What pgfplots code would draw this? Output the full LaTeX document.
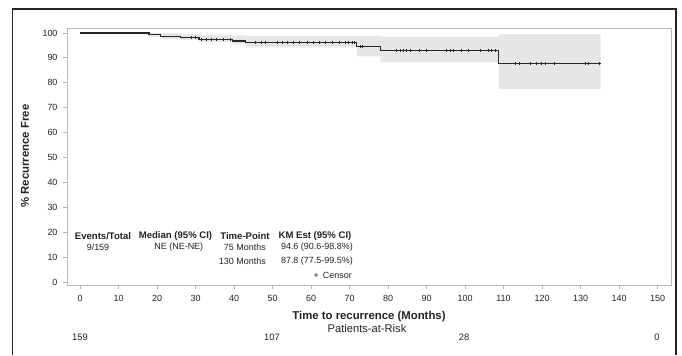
\documentclass[border=0pt]{standalone}
\usepackage{fontspec}
\setmainfont{Liberation Sans}
\usepackage{pgfplots}
\pgfplotsset{compat=1.18}
\usepgfplotslibrary{fillbetween}
\definecolor{bandgray}{HTML}{E6E6E6}
\definecolor{axgray}{HTML}{B8B8B8}
\definecolor{txt}{HTML}{222222}
\begin{document}
\begin{tikzpicture}
\begin{axis}[
  at={(67bp,-285bp)}, anchor=south west,
  scale only axis, width=604bp, height=257bp,
  xmin=-3.4, xmax=153.5, ymin=-1.2, ymax=102,
  xtick={0,10,...,150}, ytick={0,10,...,100},
  xtick pos=bottom, ytick pos=left,
  tick align=outside, major tick length=4bp,
  tick style={axgray, line width=0.8bp},
  axis line style={axgray, line width=0.9bp},
  /pgf/number format/assume math mode=true,
  ticklabel style={font=\fontsize{9}{10}\selectfont, text=txt},
  xticklabel style={yshift=-3bp},
  yticklabel style={xshift=-2bp},
]
% confidence band
\addplot[name path=U, const plot, draw=none, forget plot] coordinates {
(0,100) (17.9,100) (21,99.9) (26.2,99.4) (30.9,99.2) (39.7,99.0) (43,98.8) (71.9,98.8) (78.1,98.5) (108.8,99.5) (135.2,99.5)};
\addplot[name path=L, const plot, draw=none, forget plot] coordinates {
(0,100) (17.9,98.3) (21,97.6) (26.2,97.2) (30.9,96.3) (39.7,95.5) (43,94.2) (71.9,90.6) (78.1,88.2) (108.8,77.5) (135.2,77.5)};
\addplot[bandgray, forget plot] fill between[of=U and L];
% KM curve
\addplot[const plot, black!85, line width=1.1bp] coordinates {
(0,100) (17.9,99.4) (21,98.7) (26.2,98.1) (30.9,97.5) (39.7,96.8) (43,96.1) (71.9,94.6) (78.1,93.0) (108.8,87.8) (135.2,87.8)};
% censor marks
\addplot[only marks, mark=+, mark size=1.3bp, black!85, mark options={line width=0.6bp}] coordinates {
(29.0,98.1) (29.9,98.1)
(31.6,97.5) (32.9,97.5) (34.2,97.5) (35.5,97.5) (37.1,97.5) (39.1,97.5)
(40.7,96.8) (41.6,96.8)
(45.5,96.1) (47,96.1) (48,96.1) (51.1,96.1) (52.4,96.1) (53.8,96.1) (55.4,96.1) (56.9,96.1) (58.9,96.1) (60.6,96.1) (62.1,96.1) (63.6,96.1) (65.4,96.1) (67.3,96.1) (68.8,96.1) (69.7,96.1) (70.6,96.1) (71.2,96.1)
(72.7,94.6) (73.4,94.6)
(82.2,93.0) (83.1,93.0) (84.0,93.0) (84.8,93.0) (85.9,93.0) (88.1,93.0) (89.9,93.0) (95.2,93.0) (96.1,93.0) (97.0,93.0) (98.9,93.0) (100.9,93.0) (103.9,93.0) (106.1,93.0) (106.9,93.0) (107.8,93.0)
(113,87.8) (114,87.8) (116.9,87.8) (118.6,87.8) (119.7,87.8) (120.8,87.8) (123.1,87.8) (131.2,87.8) (132.1,87.8) (135,87.8)};
\end{axis}
\draw[line width=1.6bp, black!85] (12.5bp,-355bp) -- (12.5bp,-9bp) -- (676bp,-9bp) -- (676bp,-355bp);
% axis labels
\node[font=\fontsize{11.4}{12}\selectfont\bfseries, text=txt] at (369bp,-317bp) {Time to recurrence (Months)};
\node[font=\fontsize{11.4}{12}\selectfont\bfseries, text=txt, rotate=90] at (25bp,-156bp) {\% Recurrence Free};
\node[font=\fontsize{11.2}{12}\selectfont, text=txt] at (367bp,-329bp) {Patients-at-Risk};
% at risk numbers
\node[font=\fontsize{9.4}{10}\selectfont, text=txt] at (80bp,-337.5bp) {159};
\node[font=\fontsize{9.4}{10}\selectfont, text=txt] at (272bp,-337.5bp) {107};
\node[font=\fontsize{9.4}{10}\selectfont, text=txt] at (464bp,-337.5bp) {28};
\node[font=\fontsize{9.4}{10}\selectfont, text=txt] at (657bp,-337.5bp) {0};
% inset table
\tikzset{hd/.style={font=\fontsize{9.6}{10}\selectfont\bfseries, text=txt, inner sep=0pt},
         rw/.style={font=\fontsize{9}{10}\selectfont, text=txt, inner sep=0pt}}
\node[hd] at (103bp,-236bp) {Events/Total};
\node[hd] at (175.5bp,-236bp) {Median (95\% CI)};
\node[hd] at (245bp,-236bp) {Time-Point};
\node[hd] at (315bp,-236bp) {KM Est (95\% CI)};
\node[rw] at (98bp,-247.5bp) {9/159};
\node[rw] at (178.8bp,-247.5bp) {NE (NE-NE)};
\node[rw, anchor=east] at (266bp,-247.5bp) {75 Months};
\node[rw, anchor=east] at (353bp,-247.5bp) {94.6 (90.6-98.8\%)};
\node[rw, anchor=east] at (266bp,-261bp) {130 Months};
\node[rw, anchor=east] at (353bp,-261bp) {87.8 (77.5-99.5\%)};
\node[rw, anchor=east] at (352bp,-275bp) {+\hspace{4bp}Censor};
\path[use as bounding box] (0bp,0bp) rectangle (682bp,-355bp);
\end{tikzpicture}
\end{document}
